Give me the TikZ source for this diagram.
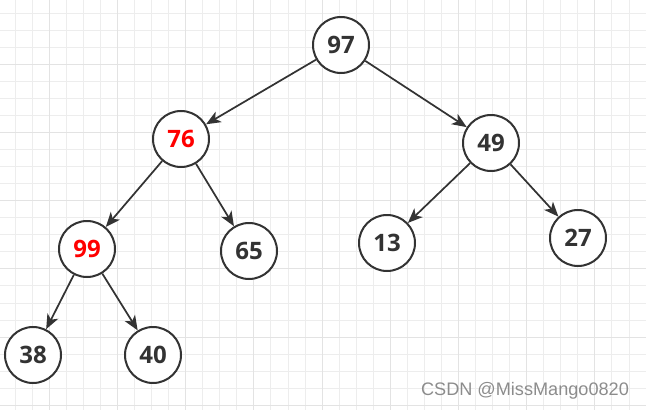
\documentclass[tikz,border=0pt]{standalone}
\usepackage{fontspec}
\setmainfont{Open Sans}
\newfontfamily\markfont{Liberation Sans}
\usepackage{tikz}
\usetikzlibrary{arrows.meta}
\definecolor{inkgray}{HTML}{333333}
\definecolor{minorline}{HTML}{EDEDED}
\definecolor{majorline}{HTML}{E3E3E3}
\tikzset{
        link/.style={-{Stealth[length=11pt,width=9pt,inset=3pt]}, draw=inkgray, line width=1.3pt}, % directed edges, bold heads
        gridline/.style={draw=minorline, line width=0.75pt},
        gridmajor/.style={draw=majorline, line width=0.8pt},
    }
\tikzstyle{vertex}=[draw=inkgray,fill=white,circle,line width=1.5pt,minimum size=42pt,inner sep=0pt,text=inkgray,font=\fontsize{18}{20}\selectfont\bfseries]
\tikzstyle{hot}=[vertex,text=red]

\begin{document}
\begin{tikzpicture}[x=0.75pt,y=-0.75pt]
    \useasboundingbox (0,0) rectangle (646,410);
    % background grid
    \foreach \i in {0,...,38}
        \draw[gridline] ({-1.85+17.05*\i},0) -- ++(0,410);
    \foreach \i in {0,...,24}
        \draw[gridline] (0,{-3.9+17.05*\i}) -- ++(646,0);
    \foreach \i in {3,7,...,39}
        \draw[gridmajor] ({-1.85+17.05*\i},0) -- ++(0,410);
    \foreach \i in {0,4,...,24}
        \draw[gridmajor] (0,{-3.9+17.05*\i}) -- ++(646,0);

    % the tree
    \node[vertex] (n97) at (341,45) {97};
    \node[hot] (n76) at (181,139) {76};
    \node[vertex] (n49) at (491,143) {49};
    \node[hot] (n99) at (87,249) {99};
    \node[vertex] (n65) at (249,251) {65};
    \node[vertex] (n13) at (387,243) {13};
    \node[vertex] (n27) at (578,238) {27};
    \node[vertex] (n38) at (33,355) {38};
    \node[vertex] (n40) at (153,355) {40};

    \draw[link] (n97) -- (n76);
    \draw[link] (n97) -- (n49);
    \draw[link] (n76) -- (n99);
    \draw[link] (n76) -- (n65);
    \draw[link] (n49) -- (n13);
    \draw[link] (n49) -- (n27);
    \draw[link] (n99) -- (n38);
    \draw[link] (n99) -- (n40);

    \node[text=black!45, font=\markfont\fontsize{13.6}{15}\selectfont] (mark) at (525,391) {CSDN @MissMango0820};
\end{tikzpicture}
\end{document}
